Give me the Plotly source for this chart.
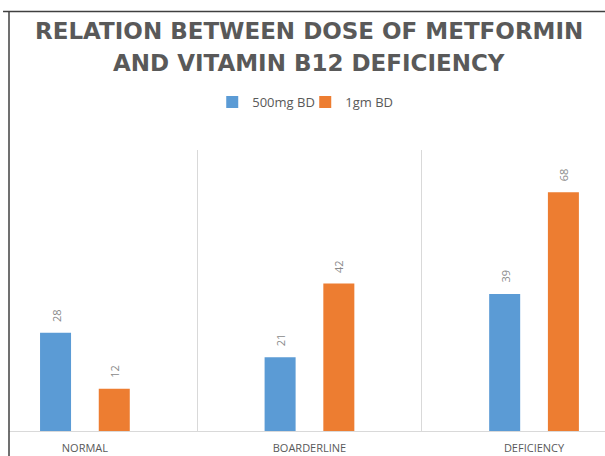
import plotly.graph_objects as go

categories = ["NORMAL", "BOARDERLINE", "DEFICIENCY"]
series_names = ["500mg BD", "1gm BD"]
dose_500mg = [28, 21, 39]
dose_1gm = [12, 42, 68]
title_lines = ["RELATION BETWEEN DOSE OF METFORMIN", "AND VITAMIN B12 DEFICIENCY"]

colors = ["#5B9BD5", "#ED7D31"]
xpos = list(range(len(categories)))

fig = go.Figure()
for name, vals, col in zip(series_names, [dose_500mg, dose_1gm], colors):
    fig.add_trace(go.Bar(x=xpos, y=vals, name=name, marker=dict(color=col, line=dict(width=0))))

annotations = []
# data labels (rotated)
for vals, shift in zip([dose_500mg, dose_1gm], [-29, 29.5]):
    for xi, v in zip(xpos, vals):
        annotations.append(dict(x=xi, y=v, xref="x", yref="y", text=str(v), showarrow=False,
                                textangle=-90, xshift=shift, yshift=9, yanchor="bottom",
                                font=dict(family="Open Sans", size=11, color="#8a8a8a")))
# title lines
for line, py in zip(title_lines, [1.425, 1.308]):
    annotations.append(dict(x=0.503, y=py, xref="paper", yref="paper", text="<b>%s</b>" % line,
                            showarrow=False, xanchor="center", yanchor="middle",
                            font=dict(family="DejaVu Sans", size=23, color="#595959")))

fig.update_layout(
    width=605, height=456,
    margin=dict(l=9, r=0, t=150, b=25),
    paper_bgcolor="white", plot_bgcolor="white",
    barmode="group", bargap=0.477, bargroupgap=0.472,
    showlegend=True,
    legend=dict(orientation="h", x=0.341, xanchor="left", y=1.171, yanchor="middle",
                font=dict(family="Open Sans", size=13, color="#595959"),
                itemwidth=30, traceorder="normal", entrywidth=48, entrywidthmode="pixels"),
    annotations=annotations,
    shapes=[
        dict(type="line", xref="paper", yref="paper", x0=0, x1=0, y0=-0.2, y1=1.493,
             line=dict(color="#404040", width=1.5), layer="above"),
        dict(type="line", xref="paper", yref="paper", x0=-0.01, x1=1.05, y0=1.493, y1=1.493,
             line=dict(color="#404040", width=1.5), layer="above"),
    ],
    xaxis=dict(range=[-0.338, 2.316], tickvals=xpos, ticktext=categories,
               showgrid=False, zeroline=False, showline=True, linecolor="#d9d9d9", linewidth=1,
               ticks="", ticklabelstandoff=7,
               tickfont=dict(family="Open Sans", size=11, color="#595959"),
               minor=dict(tickvals=[0.5, 1.5], showgrid=True, gridcolor="#d9d9d9", gridwidth=1, ticks="")),
    yaxis=dict(range=[0, 80], visible=False, showgrid=False, zeroline=False),
)

fig.write_html("out.html", config={"displayModeBar": False},
               post_script="document.body.style.margin='0';document.body.style.overflow='hidden';")
